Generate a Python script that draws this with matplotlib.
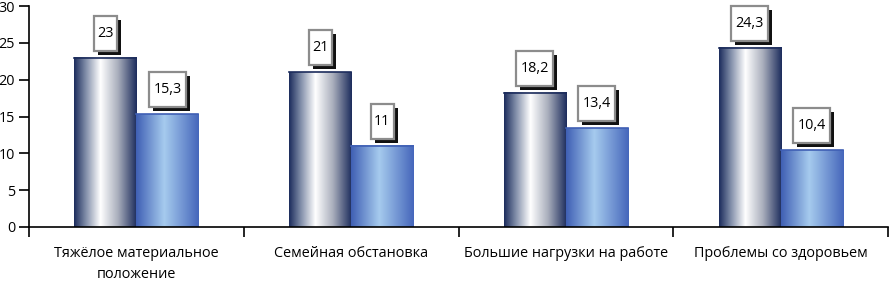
import numpy as np
import matplotlib.pyplot as plt
from matplotlib.colors import LinearSegmentedColormap
from matplotlib.patches import Rectangle

categories = ["Тяжёлое материальное\nположение", "Семейная обстановка",
              "Большие нагрузки на работе", "Проблемы со здоровьем"]
series_a = [23, 21, 18.2, 24.3]
series_b = [15.3, 11, 13.4, 10.4]
labels_a = ["23", "21", "18,2", "24,3"]
labels_b = ["15,3", "11", "13,4", "10,4"]
yticks = [0, 5, 10, 15, 20, 25, 30]

plt.rcParams['font.family'] = ['Open Sans', 'DejaVu Sans']
plt.rcParams['font.size'] = 10.4

cmap_a = LinearSegmentedColormap.from_list(
    "a", [(0, "#1c2c5c"), (0.18, "#7d8aa6"), (0.42, "#ffffff"),
          (0.7, "#a9aebc"), (1, "#1c2c5c")])
cmap_b = LinearSegmentedColormap.from_list(
    "b", [(0, "#3f5fb4"), (0.45, "#a6cbee"), (1, "#4566bb")])

fig = plt.figure(figsize=(8.9, 2.81), dpi=100)
ax = fig.add_axes([29 / 890, 54 / 281, 859 / 890, 221 / 281])

w = 0.289
x = np.arange(len(categories))
grad = np.linspace(0, 1, 256).reshape(1, -1)
for i in range(len(x)):
    ax.imshow(grad, cmap=cmap_a, aspect='auto', extent=[x[i] - w, x[i], 0, series_a[i]], zorder=2)
    ax.imshow(grad, cmap=cmap_b, aspect='auto', extent=[x[i], x[i] + w, 0, series_b[i]], zorder=2)
    ax.plot([x[i] - w, x[i]], [series_a[i]] * 2, color="#1c2c5c", lw=1.2, zorder=3)
    ax.plot([x[i], x[i] + w], [series_b[i]] * 2, color="#3f5fb4", lw=1.2, zorder=3)

ax.set_xlim(-0.5, 3.5)
ax.set_ylim(0, 30)
ax.set_yticks(yticks)
ax.set_xticks(x)
ax.set_xticklabels(categories, linespacing=1.5)
ax.set_xticks(np.arange(-0.5, 4, 1), minor=True)
ax.tick_params(axis='x', which='major', length=0, pad=14)
ax.tick_params(axis='x', which='minor', length=7, width=1.2, direction='out')
ax.tick_params(axis='y', length=7, width=1.2, direction='out', pad=3)
for s in ['top', 'right']:
    ax.spines[s].set_visible(False)
for s in ['left', 'bottom']:
    ax.spines[s].set_linewidth(1.2)

# label boxes with shadow, sized in pixels
fig.canvas.draw()
def label_box(xc, val, txt):
    px, py = ax.transData.transform((xc, val))
    bw = 9 + 7 * len(txt)
    bh = 35
    x0 = px - bw / 2
    y0 = py + 7
    fig.patches.append(Rectangle((x0 + 4, y0 - 4), bw, bh, transform=None,
                                 facecolor="#111111", edgecolor="none", zorder=4))
    fig.patches.append(Rectangle((x0, y0), bw, bh, transform=None,
                                 facecolor="white", edgecolor="#8c8c8c", lw=1.6, zorder=5))
    fig.text(px / 890, (y0 + bh / 2) / 281, txt, ha='center', va='center', zorder=6)

for i in range(len(x)):
    label_box(x[i] - w / 2, series_a[i], labels_a[i])
    label_box(x[i] + w / 2, series_b[i], labels_b[i])

fig.savefig("out.png", dpi=100)
